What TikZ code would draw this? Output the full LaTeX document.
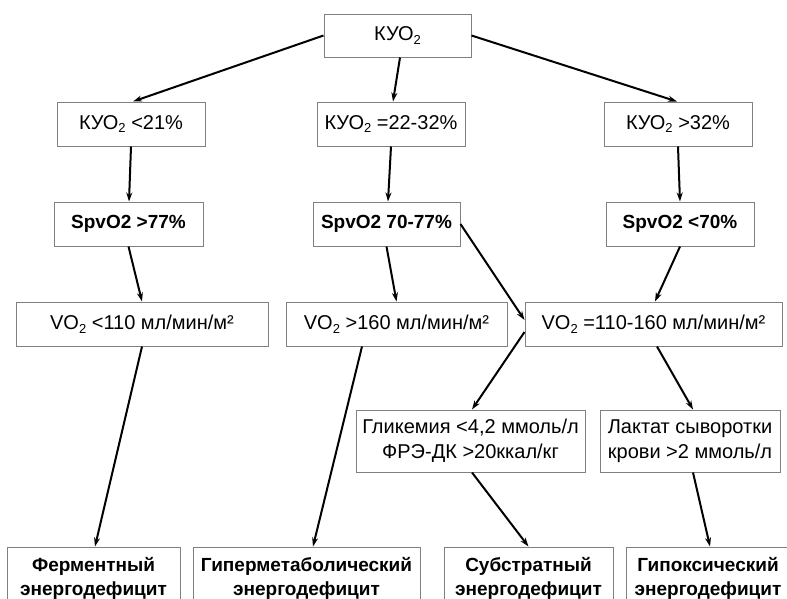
\documentclass[tikz,border=0pt]{standalone}
\usepackage{fontspec}
\setmainfont{Liberation Sans}
\usetikzlibrary{arrows.meta}
\tikzset{
  every picture/.style={line width=2pt},
  sbox/.style={draw=black!50, line width=1pt, fill=white, inner sep=0pt,
                align=center, font=\fontsize{20}{25}\selectfont},
  sboxb/.style={sbox, font=\fontsize{19}{24}\selectfont\bfseries},
  sarr/.style={-{Stealth[length=9pt,width=6pt]}, line width=2pt},
}
\newcommand{\lo}[1]{\raisebox{-0.35ex}{\fontsize{13}{13}\selectfont #1}}

\begin{document}
\begin{tikzpicture}[x=1pt,y=-1pt]
  \clip (0,0) rectangle (787,598);
  \fill[white] (0,0) rectangle (787,598);
  % boxes
  \node[sbox, minimum width=147pt, minimum height=43pt] (kuo) at (397.5,35.5) {КУО\lo{2}};
  \node[sbox, minimum width=148pt, minimum height=44pt] (kLow) at (131,124) {КУО\lo{2} <21\%};
  \node[sbox, minimum width=148pt, minimum height=44pt] (kMid) at (391,124) {КУО\lo{2} =22-32\%};
  \node[sbox, minimum width=148pt, minimum height=44pt] (kHigh) at (678,124) {КУО\lo{2} >32\%};
  \node[sboxb, minimum width=149pt, minimum height=44pt] (sHigh) at (128.5,224) {SpvO2 >77\%};
  \node[sboxb, minimum width=147pt, minimum height=44pt] (sMid) at (386.5,224) {SpvO2 70-77\%};
  \node[sboxb, minimum width=148pt, minimum height=44pt] (sLow) at (680,224) {SpvO2 <70\%};
  \node[sbox, minimum width=252pt, minimum height=44pt] (vLow) at (142,324) {VO\lo{2} <110 мл/мин/м²};
  \node[sbox, minimum width=221pt, minimum height=44pt] (vHigh) at (396.5,324) {VO\lo{2} >160 мл/мин/м²};
  \node[sbox, minimum width=257pt, minimum height=44pt] (vNorm) at (653.5,324) {VO\lo{2} =110-160 мл/мин/м²};
  \node[sbox, minimum width=229pt, minimum height=62pt] (glyc) at (470.5,441)
       {Гликемия <4,2 ммоль/л\\ФРЭ-ДК >20ккал/кг};
  \node[sbox, minimum width=180pt, minimum height=62pt] (lact) at (690,441)
       {Лактат сыворотки\\крови >2 ммоль/л};
  \node[sboxb, minimum width=173pt, minimum height=62pt] (dFerm) at (93.5,578) {Ферментный\\энергодефицит};
  \node[sboxb, minimum width=227pt, minimum height=62pt] (dHyper) at (306.5,578) {Гиперметаболический\\энергодефицит};
  \node[sboxb, minimum width=169pt, minimum height=62pt] (dSubst) at (528.5,578) {Субстратный\\энергодефицит};
  \node[sboxb, minimum width=164pt, minimum height=62pt] (dHypox) at (708,578) {Гипоксический\\энергодефицит};
  % arrows
  \draw[sarr] (kuo.west) -- ([xshift=2pt]kLow.north);
  \draw[sarr] ([xshift=2.5pt]kuo.south) -- ([xshift=2pt]kMid.north);
  \draw[sarr] (kuo.east) -- ([xshift=-1pt]kHigh.north);
  \draw[sarr] (kLow.south) -- ([xshift=0.5pt]sHigh.north);
  \draw[sarr] (kMid.south) -- ([xshift=1.5pt]sMid.north);
  \draw[sarr] (kHigh.south) -- (sLow.north);
  \draw[sarr] (sHigh.south) -- (vLow.north);
  \draw[sarr] (sMid.south) -- (vHigh.north);
  \draw[sarr] (sMid.east) -- ([yshift=4pt]vNorm.west);
  \draw[sarr] (sLow.south) -- ([xshift=1.5pt]vNorm.north);
  \draw[sarr] ([yshift=-8pt]vNorm.west) -- ([xshift=1.5pt]glyc.north);
  \draw[sarr] ([xshift=3.5pt]vNorm.south) -- ([xshift=3pt]lact.north);
  \draw[sarr] (vLow.south) -- ([xshift=1.5pt]dFerm.north);
  \draw[sarr] ([xshift=-34.5pt]vHigh.south) -- ([xshift=6.5pt]dHyper.north);
  \draw[sarr] ([xshift=1.5pt]glyc.south) -- (dSubst.north);
  \draw[sarr] ([xshift=3pt]lact.south) -- ([xshift=2pt]dHypox.north);
\end{tikzpicture}
\end{document}
